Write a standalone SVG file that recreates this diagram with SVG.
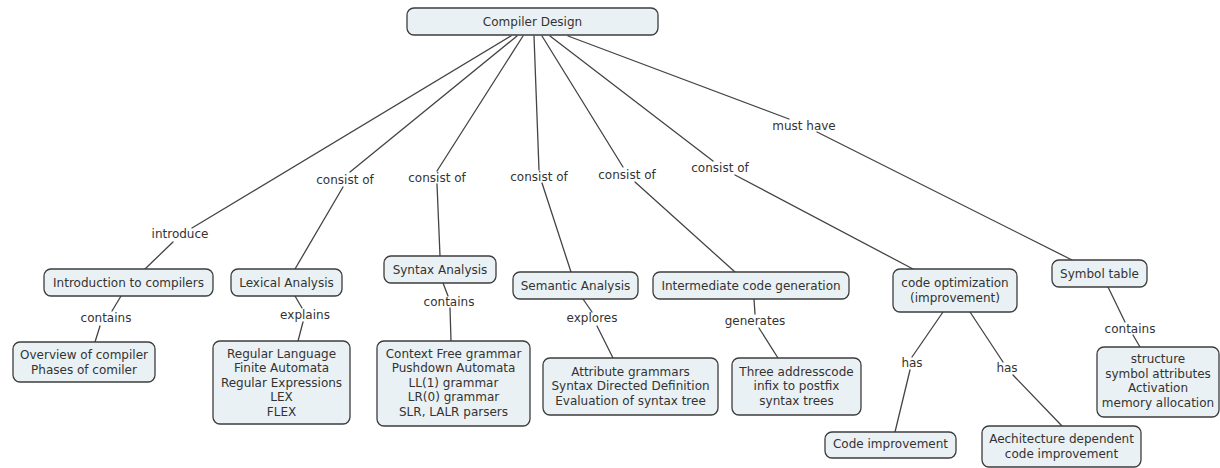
<svg xmlns="http://www.w3.org/2000/svg" width="1220" height="468" viewBox="0 0 1220 468">
  <style>
    .bg { fill: #ffffff; }
    .node rect { fill: #eaf1f4; stroke: #3c3c3c; stroke-width: 1.3; }
    text { font-family: "DejaVu Sans", Verdana, sans-serif; font-size: 12px; fill: #333333; text-anchor: middle; }
    .links line { stroke: #444444; stroke-width: 1.3; stroke-linecap: round; }
  </style>
  <rect class="bg" x="0" y="0" width="1220" height="468"/>

  <!-- connectors: each link runs from its source to the label, then on to the target -->
  <g class="links" id="connectors">
    <line x1="511" y1="36" x2="192" y2="228"/>
    <line x1="173" y1="242" x2="145" y2="269"/>
    <line x1="517" y1="36" x2="350" y2="172"/>
    <line x1="343" y1="187" x2="295" y2="269"/>
    <line x1="523" y1="36" x2="437" y2="171"/>
    <line x1="437" y1="184" x2="440" y2="256"/>
    <line x1="534" y1="36" x2="539" y2="170"/>
    <line x1="542" y1="183" x2="571" y2="272"/>
    <line x1="542" y1="36" x2="623" y2="167"/>
    <line x1="635" y1="182" x2="735" y2="272"/>
    <line x1="550" y1="36" x2="713" y2="161"/>
    <line x1="735" y1="175" x2="913" y2="269"/>
    <line x1="568" y1="36" x2="789" y2="119"/>
    <line x1="817" y1="132" x2="1072" y2="260"/>
    <line x1="121" y1="296" x2="112" y2="311"/>
    <line x1="100" y1="326" x2="95" y2="342"/>
    <line x1="295" y1="296" x2="302" y2="308"/>
    <line x1="303" y1="322" x2="298" y2="341"/>
    <line x1="443" y1="283" x2="448" y2="296"/>
    <line x1="450" y1="308" x2="451" y2="341"/>
    <line x1="583" y1="299" x2="592" y2="312"/>
    <line x1="597" y1="326" x2="613" y2="358"/>
    <line x1="754" y1="299" x2="755" y2="314"/>
    <line x1="759" y1="328" x2="778" y2="358"/>
    <line x1="943" y1="312" x2="912" y2="357"/>
    <line x1="910" y1="370" x2="895" y2="432"/>
    <line x1="970" y1="312" x2="1003" y2="362"/>
    <line x1="1013" y1="375" x2="1062" y2="426"/>
    <line x1="1108" y1="287" x2="1125" y2="322"/>
    <line x1="1133" y1="335" x2="1140" y2="347"/>
  </g>

  <!-- link labels -->
  <g id="link-labels">
    <text x="180" y="238">introduce</text>
    <text x="345" y="184">consist of</text>
    <text x="437" y="182">consist of</text>
    <text x="539" y="181">consist of</text>
    <text x="627" y="179">consist of</text>
    <text x="720" y="172">consist of</text>
    <text x="804" y="130">must have</text>
    <text x="106" y="322">contains</text>
    <text x="305" y="319">explains</text>
    <text x="449" y="306">contains</text>
    <text x="592" y="322">explores</text>
    <text x="755" y="325">generates</text>
    <text x="912" y="367">has</text>
    <text x="1007" y="372">has</text>
    <text x="1130" y="333">contains</text>
  </g>

  <!-- concepts -->
  <g class="node" id="compiler-design">
    <rect x="407" y="8" width="251" height="27" rx="7"/>
    <text x="532.5" y="26">Compiler Design</text>
  </g>
  <g class="node" id="intro">
    <rect x="44" y="269" width="169" height="27" rx="7"/>
    <text x="128.5" y="287">Introduction to compilers</text>
  </g>
  <g class="node" id="lexical">
    <rect x="231" y="269" width="111" height="27" rx="7"/>
    <text x="286.5" y="287">Lexical Analysis</text>
  </g>
  <g class="node" id="syntax">
    <rect x="384" y="256" width="112" height="27" rx="7"/>
    <text x="440" y="274">Syntax Analysis</text>
  </g>
  <g class="node" id="semantic">
    <rect x="513" y="272" width="125" height="27" rx="7"/>
    <text x="575.5" y="290">Semantic Analysis</text>
  </g>
  <g class="node" id="intermediate">
    <rect x="653" y="272" width="196" height="27" rx="7"/>
    <text x="751" y="290">Intermediate code generation</text>
  </g>
  <g class="node" id="code-optimization">
    <rect x="893" y="269" width="124" height="43" rx="7"/>
    <text x="955" y="287">code optimization</text>
    <text x="955" y="301.5">(improvement)</text>
  </g>
  <g class="node" id="symbol-table">
    <rect x="1052" y="260" width="95" height="27" rx="7"/>
    <text x="1099.5" y="278">Symbol table</text>
  </g>
  <g class="node" id="overview">
    <rect x="13" y="342" width="142" height="40" rx="7"/>
    <text x="84" y="359">Overview of compiler</text>
    <text x="84" y="373.5">Phases of comiler</text>
  </g>
  <g class="node" id="lexical-topics">
    <rect x="213" y="341" width="137" height="83" rx="7"/>
    <text x="281.5" y="357.5">Regular Language</text>
    <text x="281.5" y="372">Finite Automata</text>
    <text x="281.5" y="386.5">Regular Expressions</text>
    <text x="281.5" y="401">LEX</text>
    <text x="281.5" y="415.5">FLEX</text>
  </g>
  <g class="node" id="syntax-topics">
    <rect x="377" y="341" width="153" height="85" rx="7"/>
    <text x="453.5" y="357.5">Context Free grammar</text>
    <text x="453.5" y="372">Pushdown Automata</text>
    <text x="453.5" y="386.5">LL(1) grammar</text>
    <text x="453.5" y="401">LR(0) grammar</text>
    <text x="453.5" y="415.5">SLR, LALR parsers</text>
  </g>
  <g class="node" id="semantic-topics">
    <rect x="543" y="358" width="175" height="57" rx="7"/>
    <text x="630.5" y="375.5">Attribute grammars</text>
    <text x="630.5" y="390">Syntax Directed Definition</text>
    <text x="630.5" y="404.5">Evaluation of syntax tree</text>
  </g>
  <g class="node" id="intermediate-topics">
    <rect x="732" y="358" width="129" height="57" rx="7"/>
    <text x="796.5" y="375.5">Three addresscode</text>
    <text x="796.5" y="390">infix to postfix</text>
    <text x="796.5" y="404.5">syntax trees</text>
  </g>
  <g class="node" id="code-improvement">
    <rect x="825" y="432" width="131" height="26" rx="7"/>
    <text x="890.5" y="448">Code improvement</text>
  </g>
  <g class="node" id="arch-improvement">
    <rect x="982" y="426" width="159" height="41" rx="7"/>
    <text x="1061.5" y="443">Aechitecture dependent</text>
    <text x="1061.5" y="457.5">code improvement</text>
  </g>
  <g class="node" id="symbol-topics">
    <rect x="1097" y="347" width="122" height="70" rx="7"/>
    <text x="1158" y="363">structure</text>
    <text x="1158" y="377.5">symbol attributes</text>
    <text x="1158" y="392">Activation</text>
    <text x="1158" y="406.5">memory allocation</text>
  </g>
</svg>
